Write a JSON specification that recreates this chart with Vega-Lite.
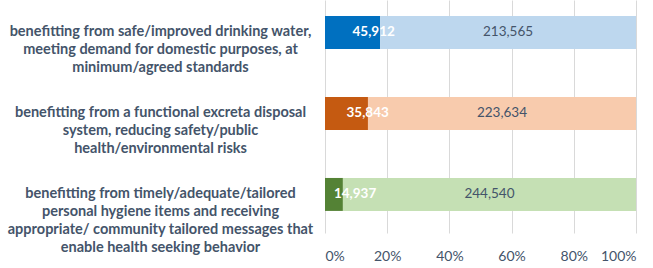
{
  "$schema": "https://vega.github.io/schema/vega-lite/v6.json",
  "autosize": {"type": "none"},
  "padding": {"left": 325, "top": 0, "right": 17, "bottom": 35},
  "width": 311,
  "height": 233,
  "background": "white",
  "data": {"values": [
    {"cat": "benefitting from safe/improved drinking water,|meeting demand for domestic purposes, at|minimum/agreed standards", "seg": "a", "order": 1, "value": 45912, "color": "#0070C0"},
    {"cat": "benefitting from safe/improved drinking water,|meeting demand for domestic purposes, at|minimum/agreed standards", "seg": "b", "order": 2, "value": 213565, "color": "#BDD7EE"},
    {"cat": "benefitting from a functional excreta disposal|system, reducing safety/public|health/environmental risks", "seg": "a", "order": 1, "value": 35843, "color": "#C55A11"},
    {"cat": "benefitting from a functional excreta disposal|system, reducing safety/public|health/environmental risks", "seg": "b", "order": 2, "value": 223634, "color": "#F8CBAD"},
    {"cat": "benefitting from timely/adequate/tailored|personal hygiene items and receiving|appropriate/ community tailored messages that|enable health seeking behavior", "seg": "a", "order": 1, "value": 14937, "color": "#548235"},
    {"cat": "benefitting from timely/adequate/tailored|personal hygiene items and receiving|appropriate/ community tailored messages that|enable health seeking behavior", "seg": "b", "order": 2, "value": 244540, "color": "#C5E0B4"}
  ]},
  "transform": [
    {"stack": "value", "groupby": ["cat"], "sort": [{"field": "order"}], "offset": "normalize", "as": ["x0", "x1"]},
    {"calculate": "(datum.x0 + datum.x1) / 2", "as": "xm"}
  ],
  "encoding": {
    "y": {
      "field": "cat", "type": "nominal", "sort": null, "title": null,
      "scale": {"paddingInner": 0.593, "paddingOuter": 0.235, "align": 0.42},
      "axis": {
        "labelExpr": "split(datum.label, '|')",
        "labelAlign": "center", "labelBaseline": "middle",
        "labelPadding": 165, "labelLimit": 0, "labelLineHeight": 18,
        "labelFont": "Lato", "labelFontWeight": "bold", "labelFontSize": 14.5,
        "labelColor": "#44546A", "ticks": false, "domain": false, "grid": false
      }
    }
  },
  "layer": [
    {
      "mark": {"type": "bar"},
      "encoding": {
        "x": {
          "field": "x0", "type": "quantitative", "title": null,
          "scale": {"domain": [0, 1], "nice": false},
          "axis": {
            "format": ".0%", "values": [0, 0.2, 0.4, 0.6, 0.8, 1],
            "labelFont": "Lato", "labelFontSize": 14, "labelColor": "#44546A",
            "labelPadding": 16, "ticks": false, "domain": false,
            "grid": true, "gridColor": "#D9D9D9", "gridWidth": 1
          }
        },
        "x2": {"field": "x1"},
        "color": {"field": "color", "type": "nominal", "scale": null}
      }
    },
    {
      "transform": [{"filter": "datum.seg == 'a'"}],
      "mark": {"type": "text", "align": "left", "baseline": "middle", "font": "Lato", "fontWeight": "bold", "fontSize": 13.5, "color": "white"},
      "encoding": {
        "x": {"field": "xm", "type": "quantitative"},
        "text": {"field": "value", "type": "quantitative", "format": ","}
      }
    },
    {
      "transform": [{"filter": "datum.seg == 'b'"}],
      "mark": {"type": "text", "align": "center", "baseline": "middle", "font": "Lato", "fontSize": 13.5, "color": "#44546A"},
      "encoding": {
        "x": {"field": "xm", "type": "quantitative"},
        "text": {"field": "value", "type": "quantitative", "format": ","}
      }
    }
  ],
  "config": {"view": {"stroke": null}}
}
